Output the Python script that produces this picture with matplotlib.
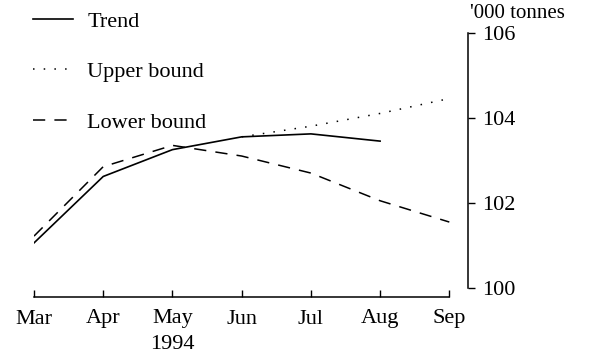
import matplotlib
matplotlib.use("Agg")
import matplotlib.pyplot as plt

months = ["Mar", "Apr", "May", "Jun", "Jul", "Aug", "Sep"]
trend = [101.06, 102.62, 103.25, 103.55, 103.62, 103.45]
upper_months = ["Jun", "Jul", "Aug", "Sep"]
upper = [103.55, 103.8, 104.1, 104.45]
lower = [101.22, 102.85, 103.35, 103.1, 102.7, 102.05, 101.55]
y_ticks = [100, 102, 104, 106]

plt.rcParams['font.family'] = ['Liberation Serif', 'DejaVu Serif']

fig = plt.figure(figsize=(5.92, 3.56), dpi=100)
ax = fig.add_axes([34 / 592, 1 - 297 / 356, (468 - 34) / 592, (297 - 24) / 356])

xs = list(range(len(months)))
up_x = [months.index(m) for m in upper_months]

ax.plot(xs[:len(trend)], trend, color="black", lw=1.2, label="Trend")
ax.plot(up_x, upper, color="black", lw=1.1, linestyle=(0, (1, 6)), label="Upper bound")
ax.plot(xs, lower, color="black", lw=1.1, linestyle=(0, (8, 6)), label="Lower bound")

ax.set_xlim(0, 6.27)
ax.set_ylim(99.79, 106.2)

for s in ["top", "left"]:
    ax.spines[s].set_visible(False)
ax.spines["bottom"].set_bounds(0, 6)
ax.spines["right"].set_bounds(100, 106)
ax.spines["bottom"].set_linewidth(1.1)
ax.spines["right"].set_linewidth(1.1)

ax.set_xticks(xs)
ax.set_xticklabels(months, fontsize=16)
ax.tick_params(axis="x", direction="in", length=5, width=1, pad=9)
ax.yaxis.tick_right()
ax.set_yticks(y_ticks)
ax.set_yticklabels([str(v) for v in y_ticks], fontsize=16)
ax.tick_params(axis="y", direction="out", length=5, width=1, pad=5)

ax.text(2, -0.14, "1994", transform=ax.get_xaxis_transform(), ha="center",
        va="top", fontsize=16)
fig.text(470 / 592, 1 - 13 / 356, "'000 tonnes", fontsize=15, va="center", ha="left")

ax.legend(loc="upper left", bbox_to_anchor=(33 / 592, 1 - 11 / 356),
          bbox_transform=fig.transFigure, frameon=False, fontsize=16,
          borderpad=0, borderaxespad=0, handlelength=1.8, handletextpad=0.65,
          labelspacing=1.35)

fig.savefig("out.png", dpi=100)
